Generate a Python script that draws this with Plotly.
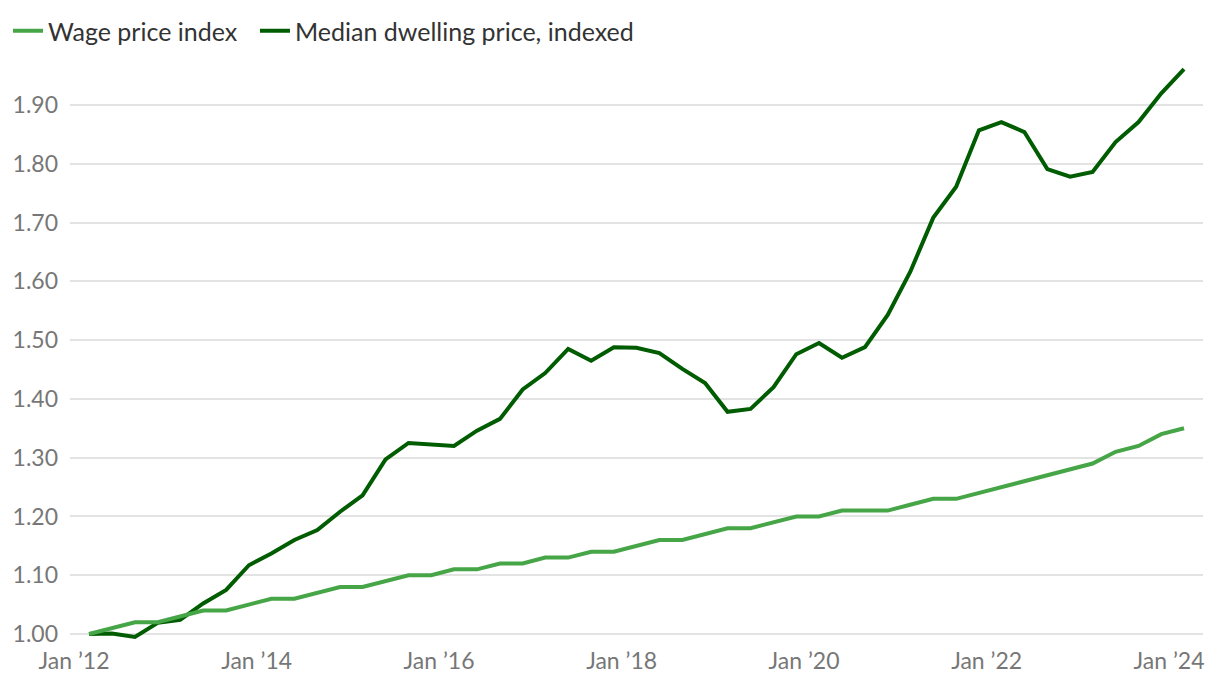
import pandas as pd
import plotly.graph_objects as go

dates = pd.date_range("2012-03-01", periods=49, freq="3MS")

wage_price_index = [
    1.00, 1.01, 1.02, 1.02, 1.03, 1.04, 1.04, 1.05, 1.06, 1.06,
    1.07, 1.08, 1.08, 1.09, 1.10, 1.10, 1.11, 1.11, 1.12, 1.12,
    1.13, 1.13, 1.14, 1.14, 1.15, 1.16, 1.16, 1.17, 1.18, 1.18,
    1.19, 1.20, 1.20, 1.21, 1.21, 1.21, 1.22, 1.23, 1.23, 1.24,
    1.25, 1.26, 1.27, 1.28, 1.29, 1.31, 1.32, 1.34, 1.35,
]

median_dwelling_price = [
    1.000, 1.001, 0.995, 1.019, 1.024, 1.052, 1.075, 1.117, 1.137, 1.160,
    1.177, 1.208, 1.236, 1.297, 1.325, 1.322, 1.320, 1.346, 1.366, 1.416,
    1.444, 1.485, 1.465, 1.488, 1.487, 1.478, 1.451, 1.427, 1.378, 1.383,
    1.420, 1.476, 1.495, 1.470, 1.488, 1.543, 1.616, 1.708, 1.761, 1.857,
    1.871, 1.854, 1.791, 1.778, 1.786, 1.837, 1.871, 1.920, 1.961,
]

tick_dates = ["2012-01-01", "2014-01-01", "2016-01-01", "2018-01-01",
              "2020-01-01", "2022-01-01", "2024-01-01"]
tick_labels = ["Jan \u201912", "Jan \u201914", "Jan \u201916", "Jan \u201918",
               "Jan \u201920", "Jan \u201922", "Jan \u201924"]
y_ticks = [1.00, 1.10, 1.20, 1.30, 1.40, 1.50, 1.60, 1.70, 1.80, 1.90]

LIGHT = "#46a546"
DARK = "#005c00"

fig = go.Figure()
fig.add_trace(go.Scatter(x=dates, y=median_dwelling_price, mode="lines",
                         name="Median dwelling price, indexed",
                         line=dict(color=DARK, width=4)))
fig.add_trace(go.Scatter(x=dates, y=wage_price_index, mode="lines",
                         name="Wage price index\u00a0\u00a0",
                         line=dict(color=LIGHT, width=4)))

font_family = "Lato, Open Sans, sans-serif"

fig.update_layout(
    width=1220, height=692,
    margin=dict(l=62, r=25, t=52, b=55),
    paper_bgcolor="white", plot_bgcolor="white",
    font=dict(family=font_family, color="#333333"),
    showlegend=True,
    legend=dict(orientation="h", x=0.0, xanchor="left", y=1.0, yanchor="top",
                yref="container", xref="container",
                font=dict(size=25, color="#333333"),
                itemwidth=30, traceorder="reversed"),
    xaxis=dict(
        range=["2011-12-16", "2024-05-16"],
        tickvals=tick_dates, ticktext=tick_labels,
        showgrid=False, zeroline=False, showline=False, automargin=False,
        ticks="", tickfont=dict(size=23, color="#777777"),
    ),
    yaxis=dict(
        range=[0.9813, 1.9766],
        tickvals=y_ticks, tickformat=".2f", automargin=False,
        showgrid=True, gridcolor="#e3e3e3", gridwidth=2,
        zeroline=False, showline=False, ticks="",
        ticklabelstandoff=11,
        tickfont=dict(size=23, color="#777777"),
    ),
)

fig.write_html("out.html")
